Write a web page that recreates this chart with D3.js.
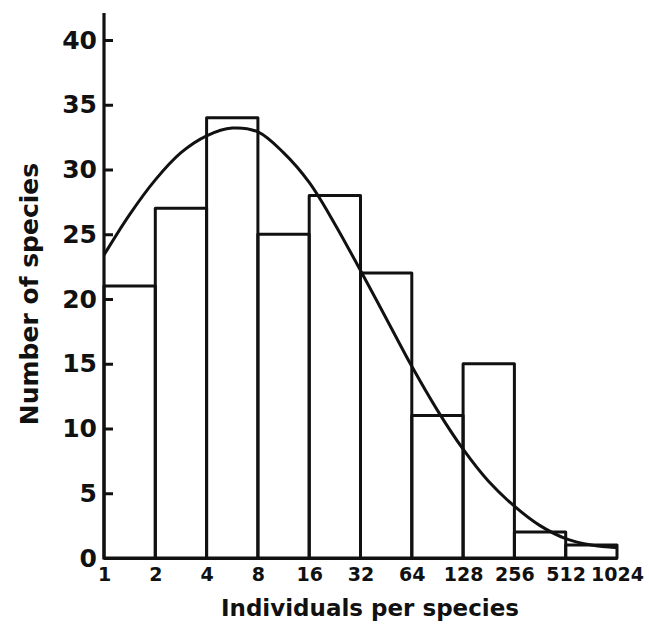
<!DOCTYPE html>
<html>
<head>
<meta charset="utf-8">
<script src="https://cdn.jsdelivr.net/npm/d3@7"></script>
<style>
  body { margin: 0; background: #fff; }
  svg { display: block; }
</style>
</head>
<body>
<svg id="chart" width="649" height="627"></svg>
<script>
// octave bin edges (individuals per species)
const binEdges = [1, 2, 4, 8, 16, 32, 64, 128, 256, 512, 1024];
// number of species in each octave bin
const speciesCounts = [21, 27, 34, 25, 28, 22, 11, 15, 2, 1];
// fitted curve: x = individuals, y = species
const curveX = [1, 1.41, 2, 2.83, 4, 5.66, 8, 11.3, 16, 22.6, 32, 45.3, 64, 90.5, 128, 181, 256, 362, 512, 724, 1024];
const curveY = [23.4, 26.5, 29.2, 31.3, 32.6, 33.2, 32.9, 31.3, 29.0, 25.8, 22.2, 18.5, 14.8, 11.4, 8.4, 5.9, 4.0, 2.5, 1.5, 1.0, 0.8];
const yTicks = [0, 5, 10, 15, 20, 25, 30, 35, 40];

const svg = d3.select("#chart");
const font = "'DejaVu Sans', sans-serif";

const x = d3.scaleLog().base(2).domain([1, 1024]).range([104, 617]);
const y = d3.scaleLinear().domain([0, 40]).range([558, 40]);

// bars (outlined)
const bins = speciesCounts.map((v, i) => ({ x0: binEdges[i], x1: binEdges[i + 1], v }));
svg.append("g").selectAll("rect").data(bins).join("rect")
    .attr("x", d => x(d.x0))
    .attr("y", d => y(d.v))
    .attr("width", d => x(d.x1) - x(d.x0))
    .attr("height", d => y(0) - y(d.v))
    .attr("fill", "none")
    .attr("stroke", "#111")
    .attr("stroke-width", 3)
    .attr("stroke-linejoin", "round");

// fitted curve
const pts = curveX.map((cx, i) => [cx, curveY[i]]);
svg.append("path")
    .datum(pts)
    .attr("d", d3.line().x(d => x(d[0])).y(d => y(d[1])).curve(d3.curveCatmullRom))
    .attr("fill", "none")
    .attr("stroke", "#111")
    .attr("stroke-width", 3);

// y axis
const gy = svg.append("g")
    .attr("transform", `translate(${x(1)},0)`)
    .call(d3.axisLeft(y).tickValues(yTicks).tickSizeInner(-9).tickSizeOuter(0).tickPadding(7));
gy.select(".domain").remove();
gy.selectAll(".tick line").attr("stroke", "#111").attr("stroke-width", 3);
gy.selectAll(".tick text")
    .attr("font-family", font).attr("font-size", 25).attr("font-weight", "bold")
    .attr("fill", "#111");
svg.append("line")
    .attr("x1", x(1)).attr("x2", x(1))
    .attr("y1", y(0) + 1.5).attr("y2", 13)
    .attr("stroke", "#111").attr("stroke-width", 3.2);

// x axis
const gx = svg.append("g")
    .attr("transform", `translate(0,${y(0)})`)
    .call(d3.axisBottom(x).tickValues(binEdges).tickFormat(d3.format("d")).tickSize(0).tickPadding(10));
gx.select(".domain").attr("stroke", "#111").attr("stroke-width", 3.2);
gx.selectAll(".tick text")
    .attr("font-family", font).attr("font-size", 19).attr("font-weight", "bold")
    .attr("fill", "#111");

// axis titles
svg.append("text")
    .attr("x", 370).attr("y", 616)
    .attr("text-anchor", "middle")
    .attr("font-family", font).attr("font-size", 23).attr("font-weight", "bold")
    .attr("fill", "#111")
    .text("Individuals per species");

svg.append("text")
    .attr("transform", "translate(38,294) rotate(-90)")
    .attr("text-anchor", "middle")
    .attr("font-family", font).attr("font-size", 25).attr("font-weight", "bold")
    .attr("fill", "#111")
    .text("Number of species");
</script>
</body>
</html>
